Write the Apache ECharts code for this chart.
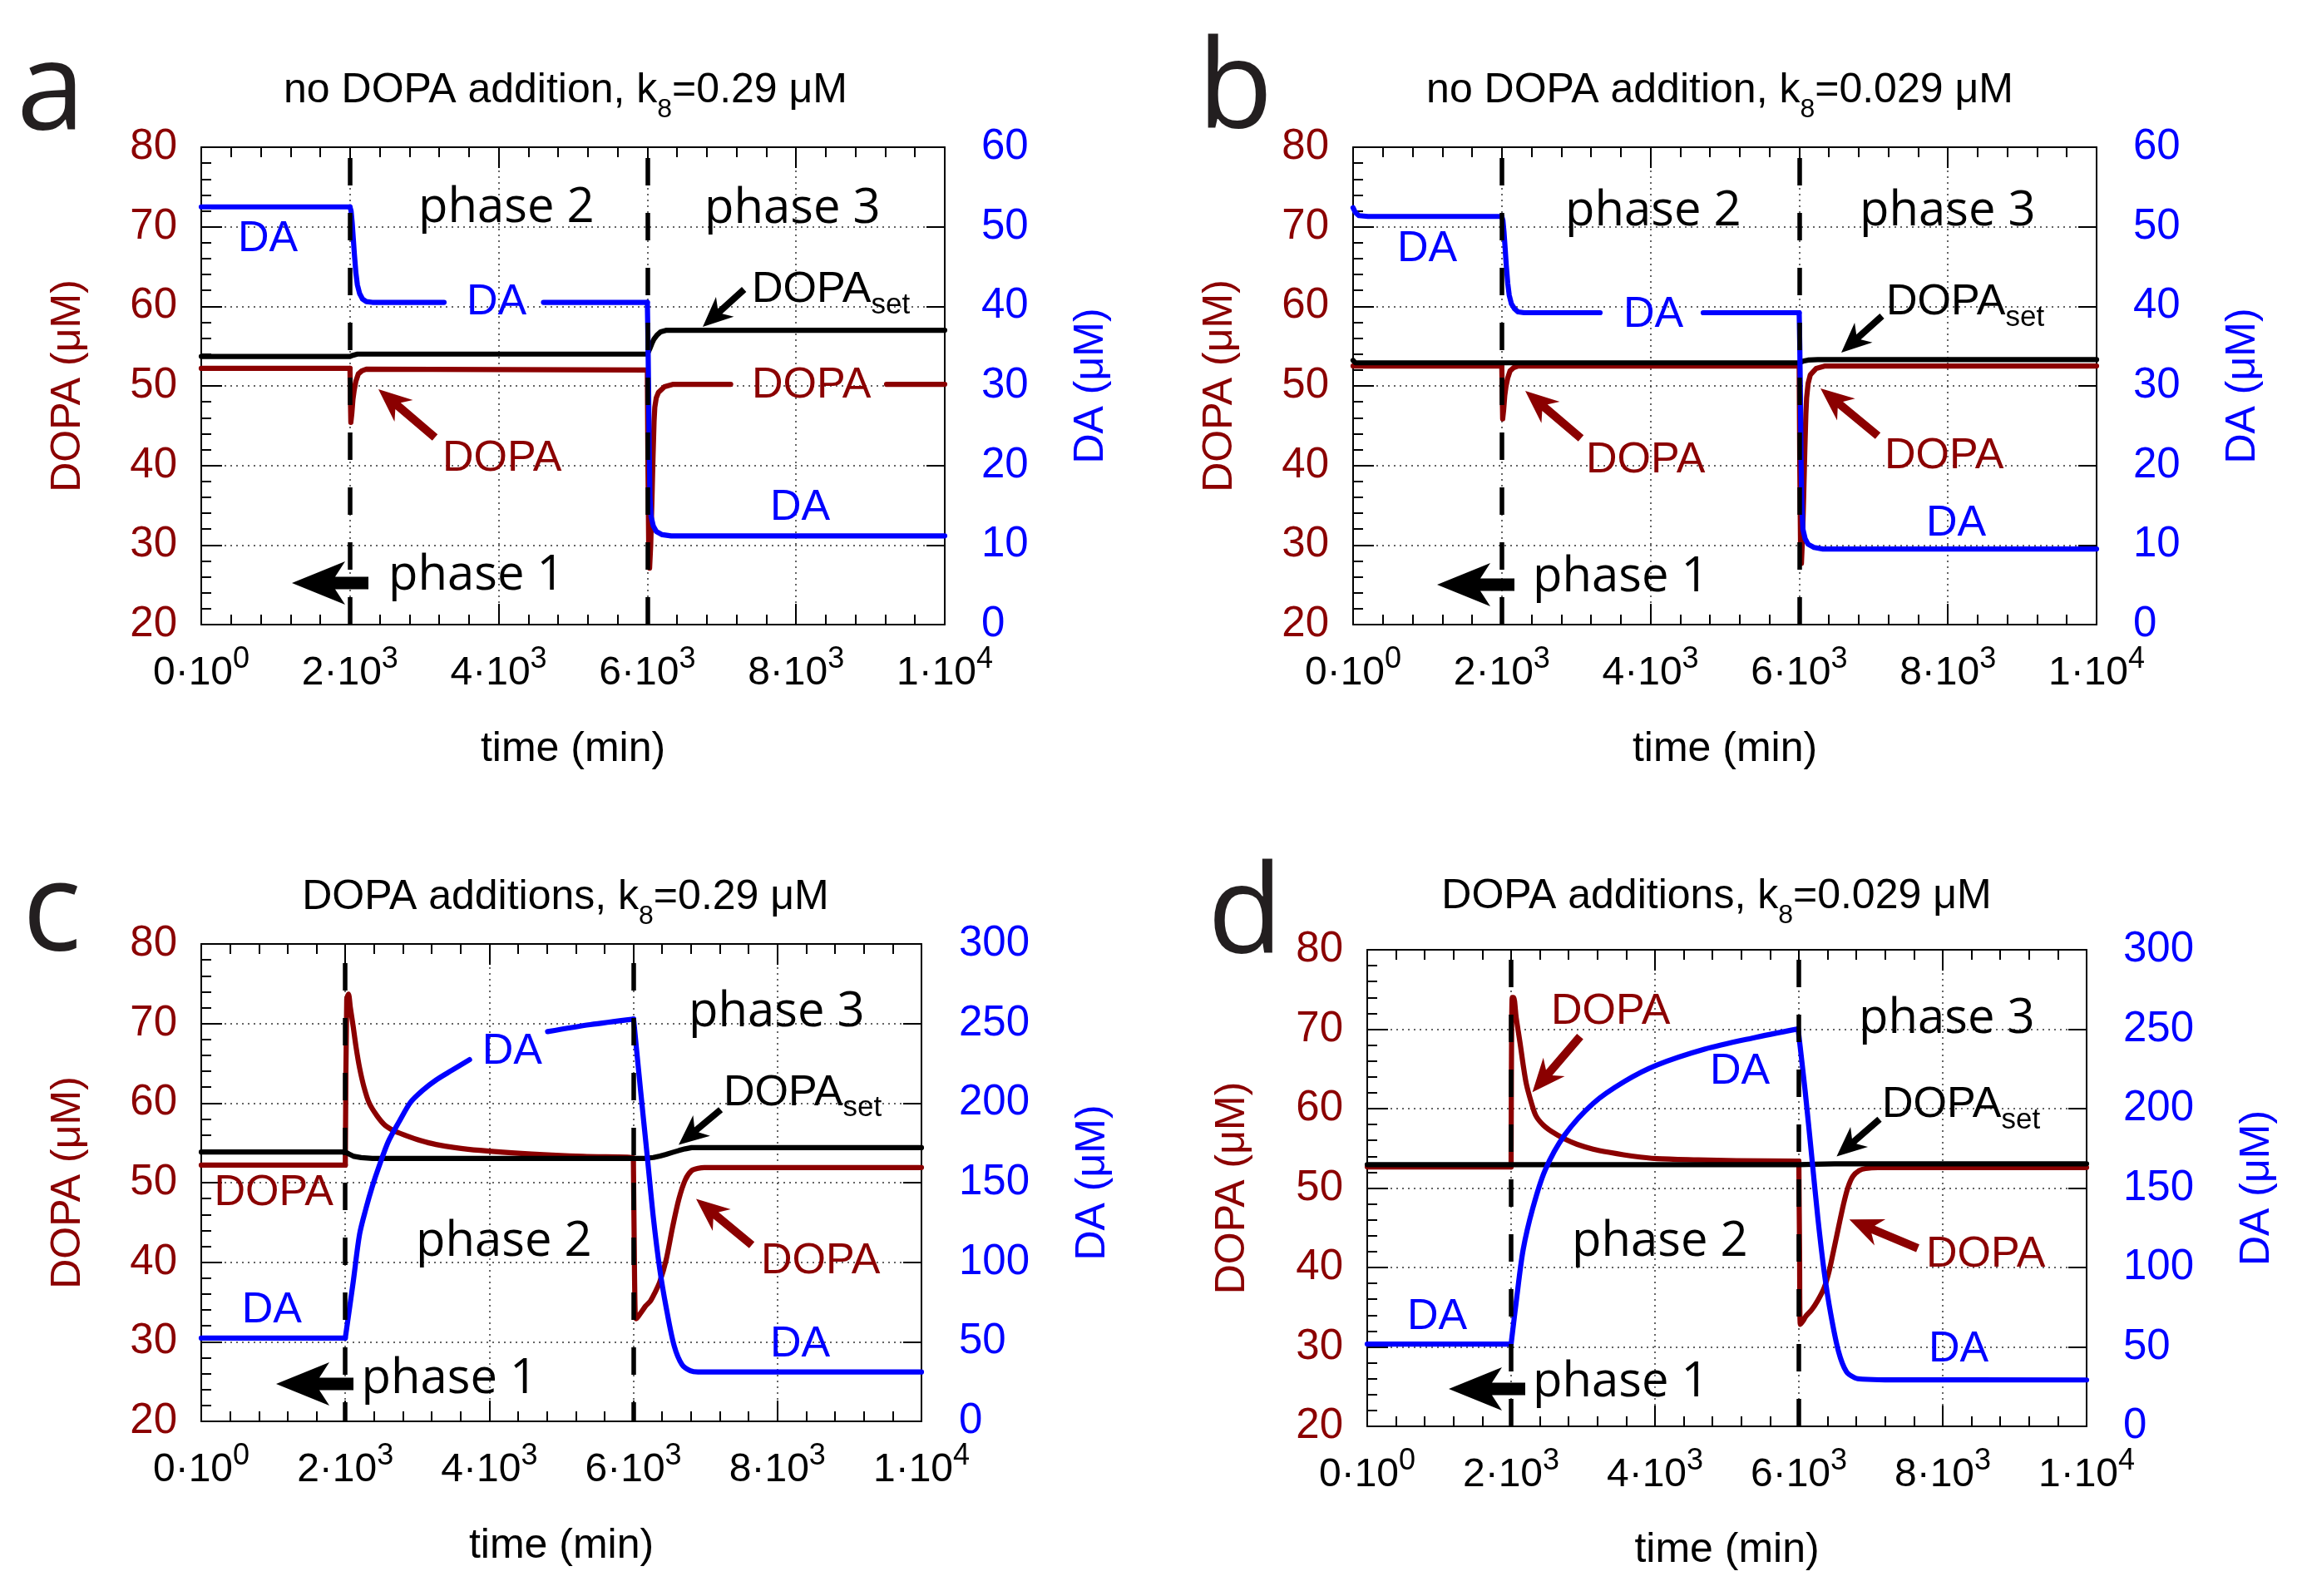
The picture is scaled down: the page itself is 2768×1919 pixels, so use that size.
<!DOCTYPE html>
<html><head><meta charset="utf-8">
<script src="https://cdn.jsdelivr.net/npm/echarts@6/dist/echarts.min.js"></script>
<style>html,body{margin:0;padding:0;background:#fff}#c{width:2768px;height:1919px}</style>
</head><body><div id="c"></div>
<script>
// ---------------- DATA ----------------
const timeTicks = [0, 2000, 4000, 6000, 8000, 10000];
const phaseBoundaries = [2000, 6000];

// panel a : no DOPA addition, k8 = 0.29 uM
const aDOPA = [[0,52.2],[2000,52.2],[2006,48.5],[2012,45.4],[2025,46.5],[2040,48.3],[2056,49.4],[2080,50.6],[2112,51.5],[2160,51.9],[2220,52.1],[4000,52.05],[6000,52.0],[6008,40],[6018,30],[6030,27.1],[6045,30],[6060,35],[6076,41],[6090,45.5],[6100,47.3],[6120,48.5],[6150,49.2],[6230,49.9],[6350,50.2],[7121,50.2],[8100,null],[9217,50.2],[10000,50.2]];
const aSet  = [[0,53.7],[2000,53.7],[2040,53.85],[2100,54.0],[6000,54.0],[6030,54.6],[6060,55.3],[6090,55.9],[6130,56.4],[6180,56.8],[6260,57.0],[10000,57.0]];
const aDA   = [[0,52.5],[2000,52.5],[2015,52],[2030,50.5],[2045,48.5],[2060,46.5],[2080,44.2],[2100,42.7],[2130,41.6],[2170,40.9],[2220,40.6],[2300,40.5],[3266,40.5],[4000,null],[4603,40.5],[6000,40.5],[6008,36],[6016,30],[6025,22],[6035,16],[6050,13.6],[6080,12.4],[6120,11.7],[6200,11.3],[6320,11.15],[10000,11.15]];

// panel b : no DOPA addition, k8 = 0.029 uM
const bDOPA = [[0,52.5],[2000,52.5],[2006,49],[2012,45.85],[2025,47],[2040,48.8],[2056,49.9],[2080,51],[2112,51.9],[2160,52.3],[2220,52.5],[6000,52.5],[6008,40],[6018,30],[6030,27.7],[6045,31],[6060,36],[6076,42],[6090,46.5],[6100,48.5],[6120,50.3],[6150,51.4],[6230,52.2],[6350,52.5],[10000,52.5]];
const bSet  = [[0,53.2],[30,52.9],[2000,52.9],[6000,52.9],[6050,53.1],[6120,53.25],[6250,53.3],[10000,53.3]];
const bDA   = [[0,52.4],[30,51.8],[80,51.4],[200,51.3],[2000,51.3],[2015,50.8],[2030,49.3],[2045,47.3],[2060,45.2],[2080,42.9],[2100,41.4],[2130,40.3],[2170,39.7],[2220,39.3],[2300,39.2],[3322,39.2],[4000,null],[4709,39.2],[6000,39.2],[6008,35],[6016,29],[6025,21],[6035,15],[6050,12],[6080,10.8],[6120,10.1],[6200,9.7],[6320,9.5],[10000,9.5]];

// panel c : DOPA additions, k8 = 0.29 uM
const cDOPA = [[0,52.2],[2000,52.2],[2020,73.0],[2044,73.7],[2070,72],[2110,69.6],[2150,67],[2199,64.4],[2260,62],[2332,60.0],[2440,58.4],[2553,57.2],[2680,56.5],[2818,56.0],[3040,55.3],[3260,54.8],[3703,54.2],[4587,53.6],[5300,53.3],[5915,53.2],[6000,53.1],[6012,42],[6025,33.5],[6040,32.9],[6100,33.6],[6170,34.5],[6235,35.1],[6300,36.2],[6366,37.5],[6455,40.3],[6543,44.35],[6632,47.95],[6720,50.35],[6808,51.5],[6900,51.8],[6986,51.9],[10000,51.9]];
const cSet  = [[0,53.85],[2000,53.85],[2050,53.6],[2120,53.3],[2220,53.15],[2376,53.05],[6150,53.05],[6278,53.16],[6370,53.35],[6455,53.56],[6543,53.8],[6632,54.04],[6720,54.25],[6808,54.4],[10000,54.4]];
const cDA   = [[0,52.3],[2000,52.3],[2110,87.7],[2199,117.7],[2287,133.8],[2376,147.8],[2465,159.8],[2597,175.8],[2750,188.5],[2906,200.5],[3080,208.2],[3260,214.5],[3480,220.6],[3725,227.3],[4200,null],[4809,244.9],[5400,249.3],[6003,252.8],[6100,207.9],[6190,167.8],[6278,127.8],[6366,95.7],[6455,71.7],[6565,47.7],[6676,35.6],[6790,31.8],[6897,31.0],[10000,31.0]];

// panel d : DOPA additions, k8 = 0.029 uM
const dDOPA = [[0,52.66],[2000,52.66],[2015,74],[2035,74.0],[2070,71.5],[2124,68.3],[2168,65.5],[2212,63.1],[2280,60.8],[2345,59.1],[2450,57.9],[2566,57.1],[2740,56.2],[2920,55.5],[3140,54.9],[3362,54.5],[3700,54.0],[4026,53.7],[4600,53.55],[5132,53.45],[5972,53.4],[6000,53.4],[6010,42],[6021,32.85],[6060,33.3],[6100,33.9],[6176,34.65],[6260,35.8],[6352,37.45],[6420,39.5],[6486,42.25],[6550,45],[6618,47.86],[6680,50],[6750,51.46],[6840,52.2],[6927,52.46],[7100,52.58],[10000,52.58]];
const dSet  = [[0,52.95],[6000,52.95],[6200,53.0],[6500,53.05],[10000,53.05]];
const dDA   = [[0,51.8],[2000,51.8],[2079,81.3],[2168,111.3],[2301,137.3],[2473,161.3],[2743,183.3],[3141,203.3],[3584,217.3],[4026,227.4],[4689,237.4],[5353,244.4],[5990,250.2],[6087,211.3],[6176,171.3],[6264,131.3],[6352,97.3],[6441,71.3],[6551,47.2],[6662,34.3],[6780,30.5],[6883,29.7],[7200,29.3],[10000,29.2]];

const titles = [
  ['no DOPA addition, k', '8', '=0.29 \u03bcM'],
  ['no DOPA addition, k', '8', '=0.029 \u03bcM'],
  ['DOPA additions, k', '8', '=0.29 \u03bcM'],
  ['DOPA additions, k', '8', '=0.029 \u03bcM']
];
const panelLetters = ['a', 'b', 'c', 'd'];
const dopaRange = [20, 80, 10];
const daRanges = [[0, 60, 10], [0, 60, 10], [0, 300, 50], [0, 300, 50]];

// ---------------- LAYOUT / STYLE ----------------
const SANS = '"Liberation Sans", Arial, Helvetica, sans-serif';
const OPEN = '"Open Sans", "Noto Sans", sans-serif';
const DR = '#8b0000', BLUE = '#0000ff', BLK = '#000000';
const GRIDLINE = {color: '#333', width: 1.5, type: [2, 5]};
const LW = 6.2;
const LETTER_SIZE = 148;

const layout = [
  {grid: {left: 242, top: 177, width: 894, height: 574}, rMargin: 44, dopaGap: 135, daGap: 151, xGap: 125, dashOffset: 0, smooth: 0,
   title: [680, 125], letter: [20, 156],
   texts: [['DA', 290, 304, BLUE], ['DA', 565, 380, BLUE], ['DOPA', 536, 568, DR], ['DOPA', 908, 480, DR], ['DA', 930, 627, BLUE]],
   sets: [[908, 365]],
   phases: [['phase 2', 508, 267], ['phase 3', 852, 268], ['phase 1', 472, 709]],
   arrows: [[[894.7, 348], [845, 393], BLK, 's'], [[523, 526], [455, 468], DR, 'm'], [[443, 701], [351, 701], BLK, 'L']]},
  {grid: {left: 1627, top: 177, width: 894, height: 574}, rMargin: 44, dopaGap: 135, daGap: 151, xGap: 125, dashOffset: 0, smooth: 0,
   title: [2068, 125], letter: [1440, 154],
   texts: [['DA', 1684, 316, BLUE], ['DA', 1956, 395, BLUE], ['DOPA', 1911, 570, DR], ['DOPA', 2270, 565, DR], ['DA', 2320, 646, BLUE]],
   sets: [[2272, 380]],
   phases: [['phase 2', 1887, 271], ['phase 3', 2241, 271], ['phase 1', 1848, 711]],
   arrows: [[[2263, 380], [2214, 424], BLK, 's'], [[1901, 527], [1834, 470], DR, 'm'], [[2258, 524], [2189, 467], DR, 'm'], [[1821, 703], [1728, 703], BLK, 'L']]},
  {grid: {left: 242, top: 1135, width: 866, height: 574}, rMargin: 45, dopaGap: 135, daGap: 181, xGap: 125, dashOffset: 10, smooth: 0.3,
   title: [680, 1095], letter: [27, 1143],
   texts: [['DOPA', 261.5, 1451, DR], ['DA', 294.8, 1592, BLUE], ['DA', 583.7, 1281, BLUE], ['DOPA', 919, 1533, DR], ['DA', 930, 1633, BLUE]],
   sets: [[874, 1330.5]],
   phases: [['phase 2', 505, 1510], ['phase 1', 439.5, 1675], ['phase 3', 833, 1234]],
   arrows: [[[866.6, 1334.3], [816, 1376.4], BLK, 's'], [[904, 1497], [837, 1441.5], DR, 'm'], [[425, 1664], [332, 1664], BLK, 'L']]},
  {grid: {left: 1644, top: 1142, width: 865, height: 573}, rMargin: 44, dopaGap: 137, daGap: 180, xGap: 124, dashOffset: 0, smooth: 0.3,
   title: [2064, 1094], letter: [1452, 1146],
   texts: [['DOPA', 1869, 1233, DR], ['DA', 2060, 1305, BLUE], ['DA', 1696, 1600, BLUE], ['DOPA', 2320, 1525, DR], ['DA', 2323, 1638.6, BLUE]],
   sets: [[2267, 1345]],
   phases: [['phase 2', 1895, 1510], ['phase 1', 1848, 1679.5], ['phase 3', 2240, 1242]],
   arrows: [[[1900, 1246.3], [1842.6, 1313.3], DR, 'm'], [[2260, 1345.8], [2208.4, 1390.6], BLK, 's'], [[2306, 1500.8], [2223.7, 1466.3], DR, 'm'], [[1834, 1670], [1742, 1670], BLK, 'L']]}
];
const arrowSizes = {s: [36, 16, 8, 8], m: [40, 17, 9, 10], L: [64, 26, 12, 15]};
const seriesData = [[aDOPA, aSet, aDA], [bDOPA, bSet, bDA], [cDOPA, cSet, cDA], [dDOPA, dSet, dDA]];

// ---------------- HELPERS ----------------
const mctx = document.createElement('canvas').getContext('2d');
function tw(s, size, fam) { mctx.font = size + 'px ' + fam; return mctx.measureText(s).width; }
function kMid(fam) { return fam === OPEN ? 0.285 : 0.31; }
function textEl(s, x, baseline, size, fam, color) {
  return {type: 'text', x: x, y: baseline - kMid(fam) * size, z: 100, silent: true,
    style: {text: s, font: size + 'px ' + fam, fill: color, align: 'left', verticalAlign: 'middle', textAlign: 'left', textVerticalAlign: 'middle'}};
}
function arrowEl(tail, tip, color, sz) {
  const [L, Wd, N, S] = arrowSizes[sz];
  const dx = tail[0] - tip[0], dy = tail[1] - tip[1];
  const len = Math.hypot(dx, dy), ux = dx / len, uy = dy / len, px = -uy, py = ux;
  const P = (a, b) => [tip[0] + ux * a + px * b, tip[1] + uy * a + py * b];
  return {type: 'polygon', z: 101, silent: true,
    shape: {points: [P(0, 0), P(L, Wd), P(L - N, S / 2), P(len, S / 2), P(len, -S / 2), P(L - N, -S / 2), P(L, -Wd)]},
    style: {fill: color}};
}
function xLabel(v) {
  if (v === 0) return '{m|0\u00b710}{s|0}';
  const e = Math.floor(Math.log10(v) + 1e-9);
  const m = Math.round(v / Math.pow(10, e));
  return '{m|' + m + '\u00b710}{s|' + e + '}';
}
// split a curve into phase pieces (sharing the joining points)
function phasePieces(data) {
  const p1 = data.filter(d => d[0] <= phaseBoundaries[0]);
  const p2 = data.filter(d => d[0] >= phaseBoundaries[0] && d[0] <= phaseBoundaries[1] + 5);
  const last = p2[p2.length - 1][0];
  const p3 = data.filter(d => d[0] >= last);
  return [p1, p2, p3];
}

// ---------------- OPTION ----------------
const grid = [], xAxis = [], yAxis = [], series = [], graphic = [];
const tickLine = {color: BLK, width: 2};
layout.forEach((p, i) => {
  grid.push(Object.assign({containLabel: false, outerBoundsMode: 'none'}, p.grid));
  xAxis.push({gridIndex: i, type: 'value', position: 'bottom', min: timeTicks[0], max: timeTicks[timeTicks.length - 1], interval: timeTicks[1] - timeTicks[0],
    axisLine: {show: true, onZero: false, lineStyle: tickLine},
    axisTick: {show: true, inside: true, length: 25, lineStyle: tickLine},
    minorTick: {show: true, splitNumber: 5, length: 12, lineStyle: tickLine},
    splitLine: {show: true, lineStyle: GRIDLINE},
    axisLabel: {show: true, margin: 24, formatter: xLabel, color: BLK,
      rich: {m: {fontFamily: SANS, fontSize: 48, lineHeight: 70, color: BLK}, s: {fontFamily: SANS, fontSize: 36, lineHeight: 36, verticalAlign: 'top', color: BLK}}},
    name: 'time (min)', nameLocation: 'middle', nameGap: p.xGap, nameTextStyle: {fontFamily: SANS, fontSize: 50, color: BLK}});
  xAxis.push({gridIndex: i, type: 'value', position: 'top', min: timeTicks[0], max: timeTicks[timeTicks.length - 1], interval: timeTicks[1] - timeTicks[0],
    axisLine: {show: true, onZero: false, lineStyle: tickLine},
    axisTick: {show: true, inside: true, length: 25, lineStyle: tickLine},
    minorTick: {show: true, splitNumber: 5, length: 12, lineStyle: tickLine},
    splitLine: {show: false}, axisLabel: {show: false}});
  yAxis.push({gridIndex: i, type: 'value', position: 'left', min: dopaRange[0], max: dopaRange[1], interval: dopaRange[2],
    axisLine: {show: true, onZero: false, lineStyle: tickLine},
    axisTick: {show: true, inside: true, length: 25, lineStyle: tickLine},
    minorTick: {show: true, splitNumber: 5, length: 12, lineStyle: tickLine},
    splitLine: {show: true, lineStyle: GRIDLINE},
    axisLabel: {margin: 29, color: DR, fontFamily: SANS, fontSize: 51},
    name: 'DOPA (\u03bcM)', nameLocation: 'middle', nameRotate: 90, nameGap: p.dopaGap, nameTextStyle: {color: DR, fontFamily: SANS, fontSize: 50}});
  const dr = daRanges[i];
  yAxis.push({gridIndex: i, type: 'value', position: 'right', min: dr[0], max: dr[1], interval: dr[2],
    axisLine: {show: true, onZero: false, lineStyle: tickLine},
    axisTick: {show: true, inside: true, length: 22, lineStyle: tickLine},
    minorTick: {show: false}, splitLine: {show: false},
    axisLabel: {margin: p.rMargin, color: BLUE, fontFamily: SANS, fontSize: 51},
    name: 'DA (\u03bcM)', nameLocation: 'middle', nameRotate: 90, nameGap: p.daGap, nameTextStyle: {color: BLUE, fontFamily: SANS, fontSize: 50}});

  const [dopa, set, da] = seriesData[i];
  const common = {type: 'line', xAxisIndex: 2 * i, showSymbol: false, symbol: 'none', silent: true, animation: false, connectNulls: false};
  // DOPA (dark red)
  phasePieces(dopa).forEach((piece, k) => {
    const s = Object.assign({}, common, {name: 'DOPA', yAxisIndex: 2 * i, data: piece, z: 2,
      smooth: k > 0 ? p.smooth : false,
      lineStyle: {color: DR, width: LW, join: 'round', cap: 'round'}});
    if (k === 0) s.markLine = {silent: true, symbol: ['none', 'none'], label: {show: false}, animation: false,
      lineStyle: {color: BLK, width: 5.5, type: [33, 33], dashOffset: p.dashOffset},
      data: phaseBoundaries.map(v => ({xAxis: v}))};
    series.push(s);
  });
  // DOPA set point (black)
  series.push(Object.assign({}, common, {name: 'DOPAset', yAxisIndex: 2 * i, data: set, z: 3,
    lineStyle: {color: BLK, width: LW, join: 'round', cap: 'round'}}));
  // DA (blue)
  phasePieces(da).forEach((piece, k) => {
    series.push(Object.assign({}, common, {name: 'DA', yAxisIndex: 2 * i + 1, data: piece, z: 4,
      smooth: k > 0 ? p.smooth : false,
      lineStyle: {color: BLUE, width: LW, join: 'round', cap: 'round'}}));
  });

  // annotations
  const t = titles[i];
  const w1 = tw(t[0], 50, SANS), w2 = tw(t[1], 32, SANS), w3 = tw(t[2], 50, SANS);
  const x0 = p.title[0] - (w1 + w2 + w3) / 2;
  graphic.push(textEl(t[0], x0, p.title[1], 50, SANS, BLK));
  graphic.push(textEl(t[1], x0 + w1, p.title[1] + 17, 32, SANS, BLK));
  graphic.push(textEl(t[2], x0 + w1 + w2, p.title[1], 50, SANS, BLK));
  graphic.push(textEl(panelLetters[i], p.letter[0], p.letter[1], LETTER_SIZE, OPEN, '#231f20'));
  p.texts.forEach(q => graphic.push(textEl(q[0], q[1] - 4, q[2], 52, SANS, q[3])));
  p.sets.forEach(q => {
    const wD = tw('DOPA', 52, SANS);
    graphic.push(textEl('DOPA', q[0] - 4, q[1], 52, SANS, BLK));
    graphic.push(textEl('set', q[0] - 4 + wD, q[1] + 13, 35, SANS, BLK));
  });
  p.phases.forEach(q => graphic.push(textEl(q[0], q[1] - 5, q[2], 58, OPEN, BLK)));
  p.arrows.forEach(q => graphic.push(arrowEl(q[0], q[1], q[2], q[3])));
});

const chart = echarts.init(document.getElementById('c'), null, {renderer: 'canvas', width: 2768, height: 1919});
chart.setOption({animation: false, backgroundColor: '#ffffff', grid, xAxis, yAxis, series, graphic});
</script></body></html>
